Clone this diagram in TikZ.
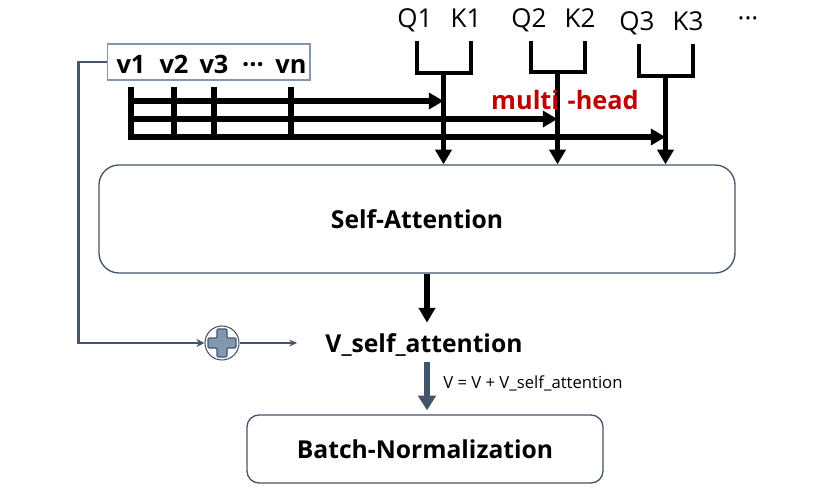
\documentclass[tikz,border=0pt]{standalone}
\usepackage{fontspec}
\setmainfont{Open Sans}
\usetikzlibrary{arrows.meta}
\definecolor{slate}{HTML}{44546A}
\definecolor{slatelt}{HTML}{8497B0}
\definecolor{mhred}{HTML}{C00000}

\begin{document}
\begin{tikzpicture}[x=0.75pt,y=-0.75pt,
      every node/.style={inner sep=0pt,text depth=0pt},
      vlab/.style={font=\fontsize{19}{22}\selectfont\bfseries,anchor=base},
      qk/.style={font=\fontsize{19.5}{22}\selectfont,anchor=base},
      box/.style={draw=slate,line width=1pt,font=\fontsize{18.5}{22}\selectfont\bfseries},
      bus/.style={line width=4.2pt},
      fork/.style={line width=3.6pt},
      bustip/.style={-{Triangle[length=11pt,width=12pt]}},
      skip/.style={draw=slate,line width=2pt}]
  \useasboundingbox (0,0) rectangle (813,496);

  % inputs v1 ... vn
  \node[draw=slatelt,line width=1pt,minimum width=152pt,minimum height=27pt] (vbox) at (208.5,62) {};
  \foreach \n/\x/\t in {v1/131/v1,v2/174/v2,v3/214/v3,vd/253/···,vn/291/vn}
    \node[vlab] (\n) at (\x,73) {\t};
  \coordinate (h1) at (131,101);
  \coordinate (h2) at (131,119);
  \coordinate (h3) at (131,137);

  % heads
  \node[box,rounded corners=15pt,minimum width=477pt,minimum height=81pt] (sa) at (417,219) {Self-Attention};
  \foreach \i/\xq/\xk/\yb/\yq in {1/415/466/73/27,2/529/580/72/27,3/637/688/76/30} {
    \node[qk] (Q\i) at (\xq,\yq) {Q\i};
    \node[qk] (K\i) at (\xk,\yq) {K\i};
    \coordinate (f\i) at ({(\xq+\xk)/2+3},\yb);
    \draw[fork] ([xshift=1.5pt,yshift=-10pt]Q\i.south) |- (f\i) -| ([xshift=3.75pt,yshift=-10pt]K\i.south);
    \draw[fork,bustip] (f\i) -- (f\i |- sa.north);
  }
  \node[qk] (qdots) at (748,27) {···};

  % v lines to every head
  \foreach \n in {v2,v3,vn}
    \draw[bus] ([yshift=-10.5pt]\n.south) -- (\n.south |- h3);
  \draw[bus,bustip] ([yshift=-10.5pt]v1.south) -- (h3) -- (h3 -| f3);
  \draw[bus,bustip] (h1) -- (h1 -| f1);
  \draw[bus,bustip] (h2) -- (h2 -| f2);
  \node[font=\fontsize{19}{22}\selectfont\bfseries,text=mhred] (mh) at (565,100) {multi\,\,-head};

  % output
  \node[font=\fontsize{18.5}{22}\selectfont\bfseries,inner sep=7pt] (vsa) at (424,343) {V\_self\_attention};
  \draw[bus,bustip,shorten >=1pt] (sa.south -| 427,0) -- (vsa.north -| 427,0);
  \node[draw=slate,fill=white,line width=0.8pt,circle,minimum size=25.5pt] (plus) at (222,343) {};
  \draw[draw=slate,fill=slatelt,line width=0.8pt,rounded corners=0.8pt,shift={(plus.center)}]
    (-5,-14) -- (5,-14) -- (5,-5) -- (14,-5) -- (14,5) -- (5,5) -- (5,14) -- (-5,14)
    -- (-5,5) -- (-14,5) -- (-14,-5) -- (-5,-5) -- cycle;
  \draw[skip,-{Stealth[length=6pt,width=6pt]}] (vbox.west) -- ++(-28,0) |- (plus.west);
  \draw[skip,line width=1.5pt,-{Stealth[length=6pt,width=5pt]},shorten >=14pt] (plus.east) -- (vsa.west);

  \node[box,rounded corners=9pt,minimum width=267pt,minimum height=51pt] (bn) at (425,449) {Batch-Normalization};
  \draw[draw=slate,line width=4.2pt,-{Triangle[length=11pt,width=13pt]},shorten >=3pt] (vsa.south -| 427,0) -- (bn.north -| 427,0);
  \node[font=\fontsize{12.5}{15}\selectfont,anchor=west] (eq) at (443,382) {V = V + V\_self\_attention};
\end{tikzpicture}
\end{document}
